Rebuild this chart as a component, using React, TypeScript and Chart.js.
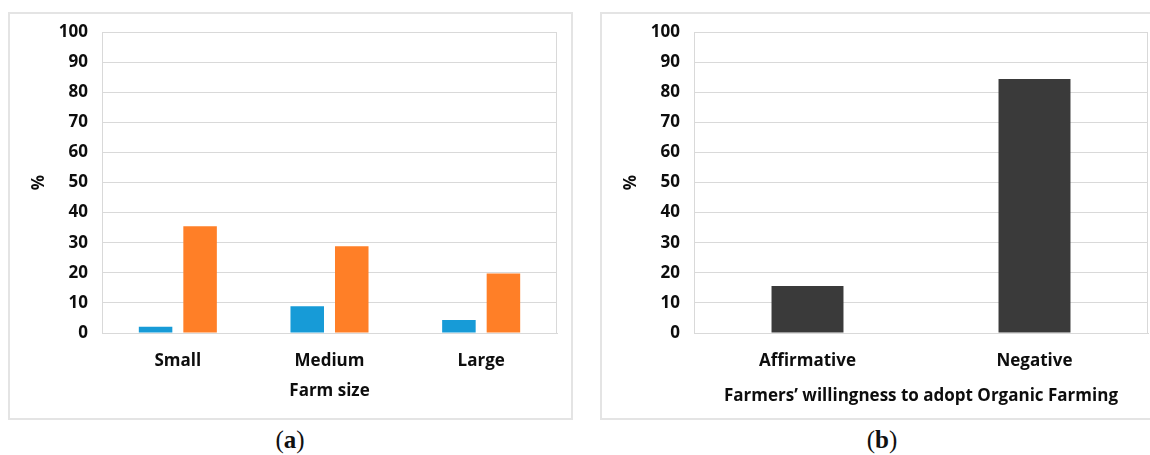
import React, { useEffect, useRef } from "react";
import { Chart, registerables } from "chart.js";

Chart.register(...registerables);

// ---- data ----
const sizeCategories = ["Small", "Medium", "Large"];
const sizeAffirmative = [2.1, 8.9, 4.3];
const sizeNegative = [35.5, 28.8, 19.8];

const willingnessCategories = ["Affirmative", "Negative"];
const willingnessValues = [15.6, 84.4];

const yMin = 0;
const yMax = 100;
const yStep = 10;

const sizeAxisTitle = "Farm size";
const willingnessAxisTitle = "Farmers’ willingness to adopt Organic Farming";
const yAxisTitle = "%";

// ---- style ----
const FONT = "'Open Sans'";
const TEXT = "#0d0d0d";
const GRID = "#d9d9d9";
const BLUE = "#179bd7";
const ORANGE = "#ff7f27";
const DARK = "#3a3a3a";

const framePlugin = {
  id: "frame",
  beforeDatasetsDraw(chart: any) {
    const { ctx, chartArea } = chart;
    const { top, right, bottom } = chartArea;
    ctx.save();
    ctx.strokeStyle = GRID;
    ctx.lineWidth = 1;
    ctx.beginPath();
    const x = Math.round(right) - 0.5;
    ctx.moveTo(x, Math.round(top));
    ctx.lineTo(x, Math.round(bottom));
    ctx.stroke();
    ctx.restore();
  },
};

function makeOptions(xTitle: string, xTitlePadBottom: number, padRight: number, catPct: number, barPct: number): any {
  const font = { family: FONT, size: 17, weight: "bold" as const };
  return {
    responsive: false,
    animation: false,
    events: [],
    layout: { padding: { top: 19, right: padRight, left: 0, bottom: 0 } },
    datasets: { bar: { categoryPercentage: catPct, barPercentage: barPct } },
    plugins: { legend: { display: false }, tooltip: { enabled: false } },
    scales: {
      x: {
        grid: { display: false, drawTicks: false },
        border: { display: true, color: GRID },
        ticks: { color: TEXT, font, padding: 18, maxRotation: 0 },
        title: { display: true, text: xTitle, color: TEXT, font, padding: { top: 0, bottom: xTitlePadBottom } },
        afterFit(s: any) {
          s.height = 86;
          s.paddingLeft = 0;
          s.paddingRight = 0;
        },
      },
      y: {
        min: yMin,
        max: yMax,
        grid: { color: GRID, drawTicks: false, lineWidth: 1 },
        border: { display: true, color: GRID },
        ticks: { stepSize: yStep, color: TEXT, font, padding: 14 },
        title: { display: true, text: yAxisTitle, color: TEXT, font, padding: { top: 20, bottom: 0 } },
        afterFit(s: any) {
          s.width = 93;
          s.paddingTop = 0;
          s.paddingBottom = 0;
        },
      },
    },
  };
}

function SizeChart() {
  const ref = useRef<HTMLCanvasElement>(null);
  useEffect(() => {
    if (!ref.current) return;
    const chart = new Chart(ref.current, {
      type: "bar",
      data: {
        labels: sizeCategories,
        datasets: [
          { label: "Affirmative", data: sizeAffirmative, backgroundColor: BLUE, borderWidth: 0 },
          { label: "Negative", data: sizeNegative, backgroundColor: ORANGE, borderWidth: 0 },
        ],
      },
      options: makeOptions(sizeAxisTitle, 18, 15, 0.587, 0.753),
      plugins: [framePlugin],
    });
    return () => chart.destroy();
  }, []);
  return (
    <canvas
      ref={ref}
      width={563}
      height={406}
      style={{ position: "absolute", left: 9, top: 13, width: 563, height: 406 }}
    />
  );
}

function WillingnessChart() {
  const ref = useRef<HTMLCanvasElement>(null);
  useEffect(() => {
    if (!ref.current) return;
    const chart = new Chart(ref.current, {
      type: "bar",
      data: {
        labels: willingnessCategories,
        datasets: [{ label: "Farmers", data: willingnessValues, backgroundColor: DARK, borderWidth: 0 }],
      },
      options: makeOptions(willingnessAxisTitle, 13, 2, 0.317, 1),
      plugins: [framePlugin],
    });
    return () => chart.destroy();
  }, []);
  return (
    <canvas
      ref={ref}
      width={549}
      height={406}
      style={{ position: "absolute", left: 601, top: 13, width: 549, height: 406 }}
    />
  );
}

const captionStyle: React.CSSProperties = {
  position: "absolute",
  width: 100,
  height: 30,
  lineHeight: "30px",
  textAlign: "center",
  fontFamily: "'Liberation Serif', serif",
  fontSize: 25,
  color: "#111",
};

export default function App() {
  return (
    <div
      style={{
        position: "fixed",
        left: 0,
        top: 0,
        width: 1150,
        height: 455,
        background: "#fff",
        overflow: "hidden",
      }}
    >
      <div
        style={{
          position: "absolute",
          left: 8,
          top: 12,
          width: 565,
          height: 408,
          border: "2px solid #e4e4e4",
          boxSizing: "border-box",
        }}
      />
      <div
        style={{
          position: "absolute",
          left: 600,
          top: 12,
          width: 600,
          height: 408,
          border: "2px solid #e4e4e4",
          boxSizing: "border-box",
        }}
      />
      <SizeChart />
      <WillingnessChart />
      <div style={{ ...captionStyle, left: 240, top: 425 }}>
        (<b>a</b>)
      </div>
      <div style={{ ...captionStyle, left: 832, top: 425 }}>
        (<b>b</b>)
      </div>
    </div>
  );
}
